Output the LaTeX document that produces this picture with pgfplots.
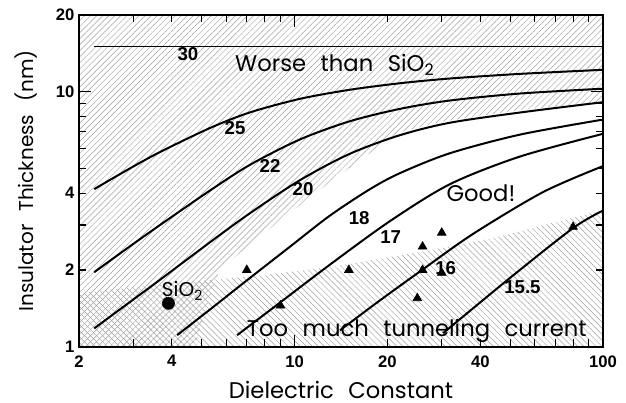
\documentclass[border=0pt]{standalone}
\usepackage{fontspec}
\setmainfont{Poppins}
\newfontfamily\labfont[WordSpace=2.4]{Poppins}
\newfontfamily\numfont{Liberation Sans}
\usepackage{pgfplots}
\pgfplotsset{compat=1.18}
\usetikzlibrary{patterns.meta}

\begin{document}
\begin{tikzpicture}
\path[use as bounding box] (-59.25pt,-41.5pt) rectangle (410.25pt,260.05pt);
\begin{axis}[
    scale only axis,
    width=393pt, height=248.8pt,
    xmode=log, ymode=log,
    xmin=2, xmax=100, ymin=1, ymax=20,
    axis line style={line width=1.3pt},
    every tick/.style={black, line width=0.9pt},
    tickwidth=9pt, subtickwidth=5.5pt,
    tick align=inside,
    xtick={10,100}, xticklabels={10,100},
    extra x ticks={2,4,20,40}, extra x tick labels={2,4,20,40},
    extra x tick style={tickwidth=5.5pt},
    minor xtick={3,5,6,7,8,9,30,50,60,70,80,90},
    ytick={1,10}, yticklabels={1,10},
    extra y ticks={2,4,20}, extra y tick labels={2,4,20},
    extra y tick style={tickwidth=5.5pt},
    minor ytick={3,5,6,7,8,9},
    ticklabel style={font=\numfont\bfseries\fontsize{12.5}{12.5}\selectfont},
    xticklabel style={yshift=-3pt},
    xlabel={Dielectric Constant},
    ylabel={Insulator Thickness (nm)},
    xlabel style={at={(axis description cs:0.5,-0.1306)}, anchor=center, inner sep=0pt,
        font=\labfont\fontsize{17}{17}\selectfont},
    ylabel style={at={(axis description cs:-0.1002,0.5)}, anchor=center, inner sep=0pt,
        font=\labfont\fontsize{15}{15}\selectfont},
    axis on top,
]

% hatched region: worse than SiO2
\addplot[draw=none, pattern={Lines[angle=45,distance=3.2pt,line width=0.35pt]}, pattern color=gray!75]
coordinates {(2,1) (4.75,1) (5.12,1.39) (5.73,2.0) (7.44,2.62) (10.41,3.59)
    (13.3,4.50) (21.5,6.89) (29.6,7.61) (53.8,8.48) (100,9.11) (100,20) (2,20)} -- cycle;

% hatched region: too much tunneling current
\addplot[draw=none, pattern={Lines[angle=-45,distance=3.2pt,line width=0.35pt]}, pattern color=gray!75]
coordinates {(2,1) (2,1.62) (2.93,1.71) (7.0,1.88) (13.0,2.05) (27.5,2.39)
    (45.3,2.69) (100,3.44) (100,1)} -- cycle;

% curves of constant value
\addplot[line width=0.8pt] coordinates {(2.23,15) (100,15)};
\addplot[line width=1.5pt, smooth] coordinates {(2.24,4.15) (2.93,5.01) (3.66,5.80) (5.32,7.21)
    (7.17,8.30) (10.41,9.38) (15.1,10.18) (22.0,10.8) (31.9,11.27) (53.8,11.75) (100,12.19)};
\addplot[line width=1.5pt, smooth] coordinates {(2.24,1.96) (2.93,2.48) (3.66,3.00) (5.32,4.10)
    (7.17,5.17) (10.41,6.50) (15.1,7.66) (22.0,8.57) (31.9,9.24) (53.8,9.84) (100,10.28)};
\addplot[line width=1.5pt, smooth] coordinates {(2.24,1.18) (2.93,1.50) (3.66,1.83) (5.32,2.57)
    (7.17,3.34) (10.41,4.50) (15.1,5.71) (22.0,6.76) (31.9,7.56) (53.8,8.29) (100,9.10)};
\addplot[line width=1.5pt, smooth] coordinates {(4.16,1.11) (5.32,1.40) (7.00,1.82) (9.67,2.47)
    (13.03,3.27) (17.56,4.15) (22.0,4.80) (31.9,5.74) (53.8,6.79) (100,7.78)};
\addplot[line width=1.5pt, smooth] coordinates {(6.51,1.11) (8.97,1.49) (13.03,2.10) (20.39,3.11)
    (31.9,4.34) (53.8,5.57) (100,6.84)};
\addplot[line width=1.5pt, smooth] coordinates {(14.04,1.16) (18.92,1.52) (25.9,2.0) (37.9,2.77)
    (63.9,4.04) (100,5.11)};
\addplot[line width=1.5pt, smooth] coordinates {(30.3,1.13) (49.9,1.86) (80.0,2.92) (100,3.42)};

% materials
\addplot[only marks, mark=triangle*, mark size=3.8pt] coordinates {
    (7.0,2.0) (9.0,1.45) (15.0,2.0) (25.0,1.55) (26.0,2.0) (26.0,2.47) (30.0,2.8) (30.0,1.95) (80.0,2.95)};
\addplot[only marks, mark=*, mark size=4.6pt] coordinates {(3.9,1.48)};

% curve labels
\begin{scope}[every node/.style={font=\numfont\bfseries\fontsize{14}{14}\selectfont}]
\node at (axis cs:4.51,14.03) {30};
\node at (axis cs:6.41,7.23) {25};
\node at (axis cs:8.33,5.12) {22};
\node at (axis cs:10.65,4.15) {20};
\node at (axis cs:16.2,3.19) {18};
\node at (axis cs:20.5,2.70) {17};
\node at (axis cs:30.9,2.04) {16};
\node at (axis cs:54.8,1.72) {15.5};
\end{scope}

\begin{scope}[every node/.style={anchor=base, font=\labfont\fontsize{17}{17}\selectfont}]
\node at (axis cs:13.5,11.98) {Worse than SiO\textsubscript{2}};
\node at (axis cs:40.2,3.70) {Good!};
\node at (axis cs:24.9,1.094) {Too much tunneling current};
\node[font=\labfont\fontsize{15}{15}\selectfont] at (axis cs:4.33,1.57) {SiO\textsubscript{2}};
\end{scope}
\end{axis}
\end{tikzpicture}
\end{document}
